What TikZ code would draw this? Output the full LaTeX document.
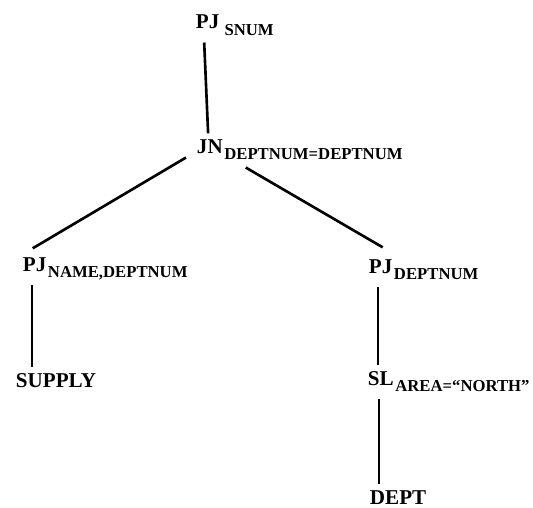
\documentclass[tikz,border=0pt]{standalone}
\usepackage{fontspec}
\setmainfont{Liberation Serif}
\usetikzlibrary{positioning,calc}

\begin{document}
\begin{tikzpicture}[x=0.02cm, y=-0.02cm,
  every node/.style={font=\fontsize{12}{14}\selectfont\bfseries},
  op/.style={anchor=base west, inner sep=1.5pt, text height=9.5pt, text depth=6pt},
  sub/.style={anchor=base west, inner sep=0pt, yshift=-3.5pt,
              font=\fontsize{9.5}{11}\selectfont\bfseries},
  edge/.style={line width=1.5pt}]

\useasboundingbox (0,0) rectangle (533,507);

%% --- Operators ---
\node[op]  (PJS)  at (193, 29)  {PJ};
\node[sub] (PJSs) at ([xshift=1pt]PJS.base east) {SNUM};
\node[op]  (JN)   at (194,153)  {JN};
\node[sub] (JNs)  at ([xshift=-1pt]JN.base east) {DEPTNUM=DEPTNUM};
\node[op]  (PJL)  at ( 20,271)  {PJ};
\node[sub] (PJLs) at ([xshift=-1pt]PJL.base east) {NAME,DEPTNUM};
\node[op]  (PJR)  at (366,273)  {PJ};
\node[sub] (PJRs) at ([xshift=-1pt]PJR.base east) {DEPTNUM};
\node[op]  (SL)   at (365,385)  {SL};
\node[sub] (SLs)  at ([xshift=-1pt]SL.base east) {AREA=“NORTH”};

%% --- Relations ---
\node[op]  (SUP)  at ( 13,387)  {SUPPLY};
\node[op]  (DEPT) at (367,504)  {DEPT};

%% --- Edges ---
\draw[edge] ([xshift=-2pt]PJS.south) -- ([xshift=-1pt]JN.north);
\draw[edge] ([shift={(-8,-9)}]JN.south west) -- ([shift={(-2,-3)}]PJL.north);
\draw[edge] ([shift={(20,1)}]JN.south east) -- ([shift={(2,-6)}]PJR.north);
\draw[edge] ([xshift=-1.5pt]PJL.south) -- ([xshift=-1.5pt]PJL.south |- SUP.north);
\draw[edge] ([xshift=-1.5pt]PJR.south) -- ([xshift=-1.5pt]PJR.south |- SL.north);
\draw[edge] ([xshift=-1pt]SL.south) -- ([xshift=-1pt]SL.south |- DEPT.north);
\end{tikzpicture}
\end{document}
